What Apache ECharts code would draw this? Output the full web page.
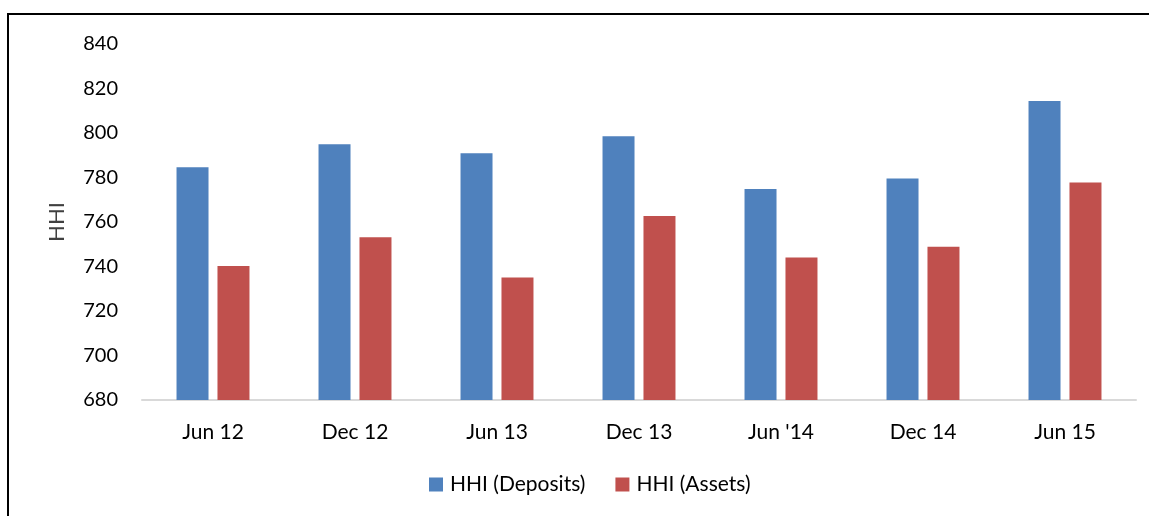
<!DOCTYPE html>
<html>
<head>
<meta charset="utf-8">
<script src="https://cdn.jsdelivr.net/npm/echarts@6/dist/echarts.min.js"></script>
<style>
  html, body { margin: 0; padding: 0; background: #fff; }
  #chart { width: 1149px; height: 516px; }
</style>
</head>
<body>
<div id="chart"></div>
<script>
// categories on x
var periods = ["Jun 12", "Dec 12", "Jun 13", "Dec 13", "Jun '14", "Dec 14", "Jun 15"];
// HHI values
var hhiDeposits = [784.6, 794.9, 790.9, 798.5, 774.8, 779.6, 814.4];
var hhiAssets = [740.2, 753.1, 735.1, 762.7, 744.1, 748.9, 777.8];

var font = "Lato, 'Open Sans', sans-serif";

var chart = echarts.init(document.getElementById('chart'));
var option = {
  animation: false,
  backgroundColor: '#fff',
  textStyle: { fontFamily: font },
  // outer frame
  graphic: [
    {
      type: 'rect',
      shape: { x: 8, y: 14, width: 1160, height: 520 },
      style: { fill: 'none', stroke: '#000', lineWidth: 2 },
      silent: true
    }
  ],
  grid: {
    left: 142,
    right: 13,
    top: 44,
    bottom: 116
  },
  legend: {
    bottom: 16,
    left: 424,
    itemWidth: 14,
    itemHeight: 14,
    itemGap: 30,
    icon: 'rect',
    textStyle: { fontFamily: font, fontSize: 21, color: '#000', padding: [0, 0, 0, 2] },
    data: ['HHI (Deposits)', 'HHI (Assets)']
  },
  xAxis: {
    type: 'category',
    data: periods,
    axisLine: { lineStyle: { color: '#D9D9D9', width: 2 } },
    axisTick: { show: false },
    axisLabel: { fontFamily: font, fontSize: 21, color: '#000', margin: 22 }
  },
  yAxis: {
    type: 'value',
    min: 680,
    max: 840,
    interval: 20,
    name: 'HHI',
    nameLocation: 'middle',
    nameGap: 74,
    nameRotate: 90,
    nameTextStyle: { fontFamily: font, fontSize: 22, color: '#404040' },
    axisLine: { show: false },
    axisTick: { show: false },
    splitLine: { show: false },
    axisLabel: { fontFamily: font, fontSize: 20, color: '#000', margin: 24 }
  },
  series: [
    {
      name: 'HHI (Deposits)',
      type: 'bar',
      data: hhiDeposits,
      barWidth: 32,
      barGap: '28%',
      itemStyle: { color: '#4F81BD' }
    },
    {
      name: 'HHI (Assets)',
      type: 'bar',
      data: hhiAssets,
      barWidth: 32,
      itemStyle: { color: '#C0504D' }
    }
  ]
};
chart.setOption(option);
</script>
</body>
</html>
